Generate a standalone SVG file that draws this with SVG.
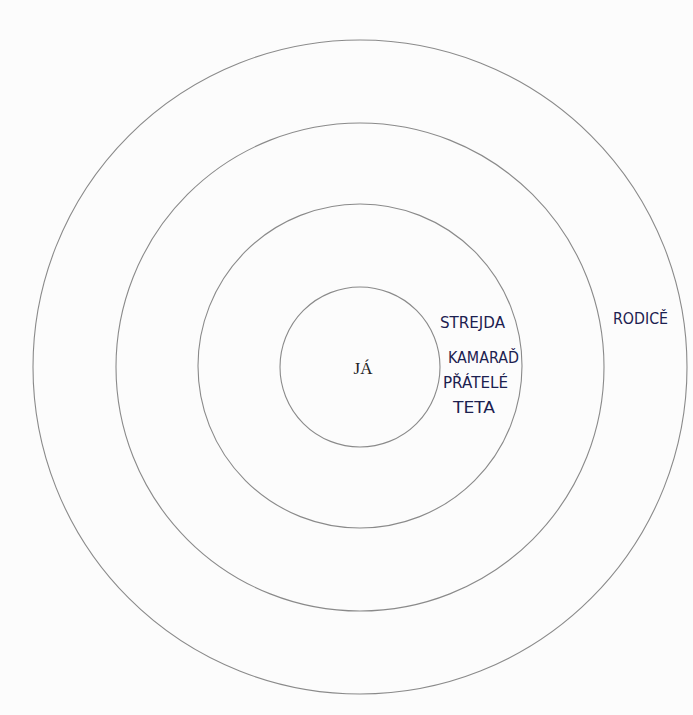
<svg xmlns="http://www.w3.org/2000/svg" width="693" height="715" viewBox="0 0 693 715">
<style>
.ring{fill:none;stroke:#8a8a8a;stroke-width:1.1}
.hw{font-family:"DejaVu Sans","Liberation Sans",sans-serif;font-size:16px;fill:#1c2150}
.me{font-family:"Liberation Serif","DejaVu Serif",serif;font-size:17px;fill:#222}
</style>
<rect width="693" height="715" fill="#fcfcfc"/>
<g id="rings">
<circle id="ring4" class="ring" cx="360" cy="367" r="327"/>
<circle id="ring3" class="ring" cx="360" cy="367" r="244"/>
<circle id="ring2" class="ring" cx="360" cy="366" r="162"/>
<circle id="ring1" class="ring" cx="360" cy="367" r="80"/>
</g>
<g id="node-ja"><text class="me" x="363" y="374" text-anchor="middle">JÁ</text></g>
<g id="node-strejda"><text class="hw" x="440" y="328" textLength="65" lengthAdjust="spacingAndGlyphs">STREJDA</text></g>
<g id="node-kamarad"><text class="hw" x="448" y="363" textLength="71" lengthAdjust="spacingAndGlyphs">KAMARAĎ</text></g>
<g id="node-pratele"><text class="hw" x="443" y="388" textLength="65" lengthAdjust="spacingAndGlyphs">PŘÁTELÉ</text></g>
<g id="node-teta"><text class="hw" x="453" y="413" textLength="42" lengthAdjust="spacingAndGlyphs">TETA</text></g>
<g id="node-rodice"><text class="hw" x="613" y="324" textLength="55" lengthAdjust="spacingAndGlyphs">RODICĚ</text></g>
</svg>
